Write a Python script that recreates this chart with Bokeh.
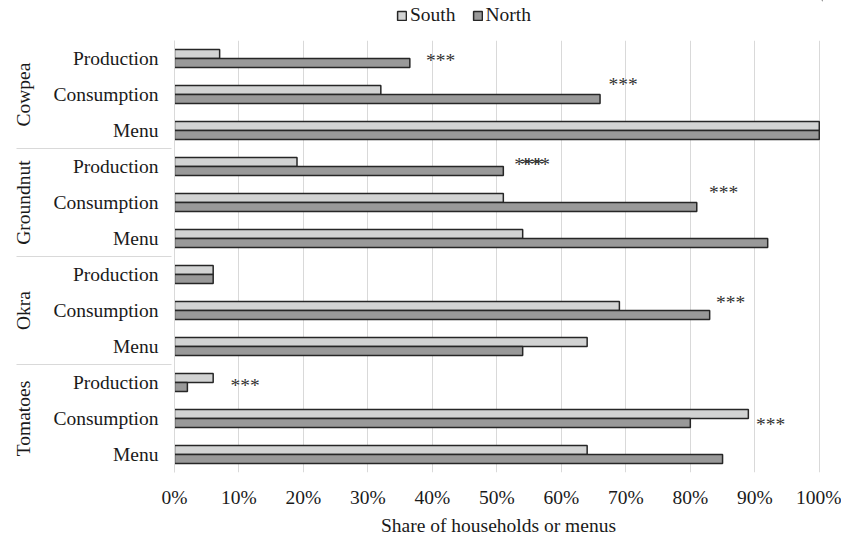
from bokeh.plotting import figure
from bokeh.models import (FactorRange, Legend, LegendItem, PrintfTickFormatter,
                          FixedTicker, Range1d, ColumnDataSource)
from bokeh.layouts import column
from bokeh.transform import dodge
from bokeh.core.properties import value
from bokeh.embed import file_html
from bokeh.resources import INLINE

crops = ["Cowpea", "Groundnut", "Okra", "Tomatoes"]
measures = ["Production", "Consumption", "Menu"]
south = [7, 32, 100, 19, 51, 54, 6, 69, 64, 6, 89, 64]
north = [36.5, 66, 100, 51, 81, 92, 6, 83, 54, 2, 80, 85]
x_ticks = [0, 10, 20, 30, 40, 50, 60, 70, 80, 90, 100]
series_names = ["South", "North"]

star_crop = ["Cowpea", "Cowpea", "Groundnut", "Groundnut", "Groundnut", "Okra", "Tomatoes", "Tomatoes"]
star_measure = ["Production", "Consumption", "Production", "Production", "Consumption",
                "Consumption", "Production", "Consumption"]
star_x = [39, 67.3, 52.7, 53.7, 82.9, 84, 8.7, 90.2]
star_dy = [-0.06, 0.28, 0.06, 0.06, 0.28, 0.23, -0.08, -0.17]
star_text = ["***"] * 8

FONT = "Times New Roman, Liberation Serif, serif"
FS = "19.5px"
TXT = "#1a1a1a"
GRID = "#d9d9d9"
C_SOUTH = "#d2d3d3"
C_NORTH = "#999999"
EDGE = "#262626"

factors = [(c, m) for c in crops for m in measures]
y_factors = list(reversed(factors))

# ---------- legend strip (top) ----------
lg = figure(width=841, height=40, x_range=Range1d(0, 1), y_range=Range1d(0, 1),
            min_border_left=0, min_border_right=0, min_border_top=0, min_border_bottom=0,
            output_backend="svg", toolbar_location=None)
lg.axis.visible = False
lg.grid.visible = False
lg.outline_line_color = None
# off-screen proxy glyphs that only supply the legend swatches
proxy = ColumnDataSource(data=dict(y=[5], l=[5], r=[6]))
g_s = lg.hbar(y="y", left="l", right="r", height=0.1, source=proxy,
              fill_color=C_SOUTH, line_color=EDGE, line_width=1.5)
g_n = lg.hbar(y="y", left="l", right="r", height=0.1, source=proxy,
              fill_color=C_NORTH, line_color=EDGE, line_width=1.5)
legend = Legend(items=[LegendItem(label=series_names[0], renderers=[g_s]),
                       LegendItem(label=series_names[1], renderers=[g_n])],
                orientation="horizontal", location=(222, 14),
                label_text_font=FONT, label_text_font_size=FS, label_text_color=TXT,
                glyph_width=11, glyph_height=11, label_standoff=3, spacing=16,
                padding=0, margin=0, border_line_color=None, background_fill_alpha=0)
lg.add_layout(legend, "center")

# ---------- main chart ----------
p = figure(y_range=FactorRange(*y_factors, group_padding=0, factor_padding=0, range_padding=0),
           x_range=Range1d(0, 100.5),
           frame_width=648, frame_height=432,
           min_border_left=174, min_border_top=0, min_border_bottom=62, min_border_right=19,
           output_backend="svg", toolbar_location=None)

src = ColumnDataSource(data=dict(y=factors, south=south, north=north))

p.hbar(y=dodge("y", 0.125, range=p.y_range), left=0, right="south", height=0.25,
       fill_color=C_SOUTH, line_color=EDGE, line_width=1.5, source=src)
p.hbar(y=dodge("y", -0.125, range=p.y_range), left=0, right="north", height=0.25,
       fill_color=C_NORTH, line_color=EDGE, line_width=1.5, source=src)

star_src = ColumnDataSource(data=dict(
    x=star_x,
    y=[[c, m, d] for c, m, d in zip(star_crop, star_measure, star_dy)],
    t=star_text))
p.text(x="x", y="y", text="t", source=star_src, text_font=value(FONT),
       text_font_size=FS, text_color="#333333", text_baseline="middle", text_align="left")

xa = p.xaxis[0]
xa.ticker = FixedTicker(ticks=x_ticks)
xa.formatter = PrintfTickFormatter(format="%d%%")
xa.axis_line_color = None
xa.major_tick_line_color = None
xa.minor_tick_line_color = None
xa.major_tick_out = 0
xa.major_tick_in = 0
xa.minor_tick_out = 0
xa.major_label_text_font = FONT
xa.major_label_text_font_size = FS
xa.major_label_text_color = TXT
xa.major_label_standoff = 14
xa.axis_label = "Share of households or menus"
xa.axis_label_text_font = FONT
xa.axis_label_text_font_size = FS
xa.axis_label_text_font_style = "normal"
xa.axis_label_text_color = TXT
xa.axis_label_standoff = 4

ya = p.yaxis[0]
ya.axis_line_color = GRID
ya.axis_line_width = 1
ya.major_tick_line_color = None
ya.minor_tick_line_color = None
ya.major_tick_out = 0
ya.major_tick_in = 0
ya.major_label_text_font = FONT
ya.major_label_text_font_size = FS
ya.major_label_text_color = TXT
ya.major_label_standoff = 16
ya.group_text_font = FONT
ya.group_text_font_size = FS
ya.group_text_color = TXT
ya.group_text_font_style = "normal"
ya.group_label_orientation = "vertical"
ya.separator_line_color = GRID
ya.separator_line_width = 1

p.xgrid.grid_line_color = GRID
p.xgrid.grid_line_width = 1
p.ygrid.grid_line_color = None
p.outline_line_color = None

layout = column(lg, p, spacing=0)
open("out.html", "w").write(file_html(layout, INLINE))
